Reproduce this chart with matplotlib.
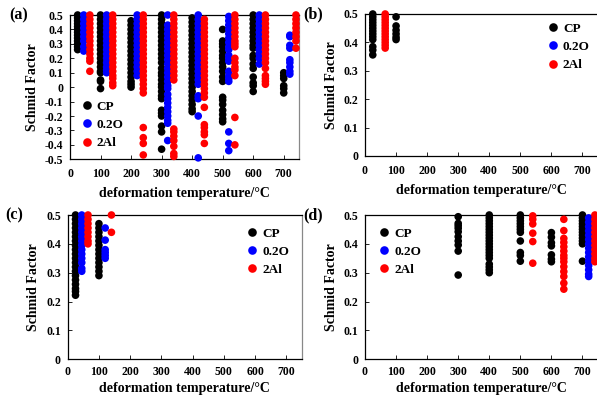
import matplotlib
matplotlib.use("Agg")
import matplotlib.pyplot as plt
from matplotlib.lines import Line2D

plt.rcParams['font.family'] = ['Liberation Serif', 'DejaVu Serif']
plt.rcParams['font.weight'] = 'bold'

labels = ["CP", "0.2O", "2Al"]
colors = ["#000000", "#0000FF", "#FF0000"]

# ---------------- panel (a) ----------------
a_cp_T = [25, 100, 200, 300, 400, 500, 600, 700]
a_cp_V = [
    [0.50, 0.48, 0.46, 0.44, 0.42, 0.40, 0.38, 0.36, 0.34, 0.32, 0.30, 0.28, 0.26],
    [0.50, 0.47, 0.44, 0.41, 0.38, 0.35, 0.32, 0.29, 0.26, 0.23, 0.20, 0.17, 0.14, 0.11, 0.10, 0.05, 0.04, -0.01],
    [0.46, 0.43, 0.40, 0.37, 0.34, 0.31, 0.28, 0.25, 0.22, 0.19, 0.16, 0.13, 0.10, 0.07, 0.04, 0.02, 0.00],
    [0.50, 0.47, 0.44, 0.41, 0.38, 0.35, 0.32, 0.29, 0.26, 0.23, 0.20, 0.17, 0.13, 0.10, 0.08, 0.05, 0.02, 0.00,
     -0.03, -0.06, -0.08, -0.16, -0.18, -0.20, -0.27, -0.31, -0.43],
    [0.48, 0.45, 0.42, 0.39, 0.36, 0.33, 0.30, 0.27, 0.24, 0.21, 0.18, 0.15, 0.12, 0.09, 0.06, 0.03, 0.00,
     -0.03, -0.06, -0.09, -0.12, -0.15, -0.17],
    [0.40, 0.32, 0.30, 0.28, 0.25, 0.22, 0.20, 0.17, 0.14, 0.11, 0.07, 0.04, -0.07, -0.09, -0.12, -0.16, -0.19, -0.22, -0.24],
    [0.50, 0.47, 0.44, 0.41, 0.38, 0.35, 0.32, 0.29, 0.27, 0.22, 0.20, 0.16, 0.13, 0.07, 0.03, 0.01, -0.03],
    [0.10, 0.08, 0.06, 0.01, -0.01, -0.04],
]
a_o_T = [45, 120, 220, 320, 420, 520, 620, 720]
a_o_V = [
    [0.50, 0.47, 0.44, 0.41, 0.38, 0.35, 0.32, 0.28, 0.25],
    [0.50, 0.47, 0.44, 0.41, 0.38, 0.35, 0.32, 0.29, 0.26, 0.23, 0.20, 0.17, 0.14, 0.12, 0.10],
    [0.50, 0.47, 0.44, 0.41, 0.38, 0.35, 0.32, 0.29, 0.26, 0.23, 0.20, 0.17, 0.14, 0.11, 0.08],
    [0.50, 0.43, 0.40, 0.37, 0.34, 0.31, 0.28, 0.25, 0.22, 0.19, 0.16, 0.13, 0.10, 0.07, 0.04, 0.01, -0.01,
     -0.05, -0.08, -0.11, -0.14, -0.17, -0.20, -0.23, -0.25, -0.37],
    [0.50, 0.47, 0.44, 0.41, 0.38, 0.35, 0.32, 0.29, 0.26, 0.23, 0.20, 0.17, 0.14, 0.11, 0.08, 0.05, 0.02,
     -0.06, -0.08, -0.20, -0.49],
    [0.49, 0.46, 0.43, 0.40, 0.37, 0.34, 0.31, 0.28, 0.26, 0.22, 0.20, 0.18, 0.11, 0.08, 0.06, 0.04, -0.31, -0.39, -0.44],
    [0.50, 0.47, 0.44, 0.41, 0.38, 0.35, 0.32, 0.29, 0.26, 0.23, 0.20, 0.16],
    [0.36, 0.35, 0.29, 0.27, 0.19, 0.17, 0.14, 0.11, 0.09],
]
a_al_T = [65, 140, 240, 340, 440, 540, 640, 740]
a_al_V = [
    [0.50, 0.47, 0.44, 0.41, 0.38, 0.35, 0.32, 0.29, 0.26, 0.23, 0.20, 0.18, 0.11],
    [0.50, 0.47, 0.44, 0.41, 0.38, 0.35, 0.32, 0.29, 0.26, 0.23, 0.20, 0.17, 0.14, 0.11, 0.08, 0.06, 0.03, 0.01],
    [0.50, 0.47, 0.44, 0.41, 0.38, 0.35, 0.32, 0.29, 0.26, 0.23, 0.20, 0.17, 0.14, 0.11, 0.08, 0.05, 0.02,
     -0.01, -0.04, -0.28, -0.35, -0.39, -0.47],
    [0.50, 0.47, 0.44, 0.41, 0.38, 0.35, 0.32, 0.29, 0.26, 0.23, 0.20, 0.17, 0.14, 0.11, 0.08, 0.05,
     -0.29, -0.31, -0.34, -0.37, -0.41, -0.46, -0.48],
    [0.47, 0.44, 0.41, 0.38, 0.35, 0.32, 0.29, 0.26, 0.23, 0.20, 0.17, 0.14, 0.11, 0.08, 0.05, 0.02, -0.01,
     -0.04, -0.07, -0.14, -0.26, -0.28, -0.31, -0.33, -0.39],
    [0.50, 0.47, 0.44, 0.41, 0.38, 0.35, 0.32, 0.30, 0.28, 0.20, 0.17, 0.14, 0.12, 0.08, -0.21, -0.40],
    [0.50, 0.47, 0.44, 0.41, 0.38, 0.35, 0.32, 0.29, 0.26, 0.23, 0.20, 0.17, 0.13, 0.08, 0.06, 0.04, 0.02],
    [0.50, 0.47, 0.44, 0.41, 0.38, 0.35, 0.32, 0.27],
]

# ---------------- panel (b) ----------------
b_cp_T = [25, 100]
b_cp_V = [
    [0.50, 0.49, 0.48, 0.47, 0.46, 0.45, 0.44, 0.43, 0.42, 0.41, 0.385, 0.373, 0.356],
    [0.49, 0.458, 0.443, 0.43, 0.418, 0.41],
]
b_o_T = []
b_o_V = []
b_al_T = [65]
b_al_V = [
    [0.50, 0.49, 0.48, 0.47, 0.46, 0.45, 0.44, 0.43, 0.42, 0.41, 0.40, 0.39, 0.38],
]

# ---------------- panel (c) ----------------
c_cp_T = [25, 100]
c_cp_V = [
    [0.50, 0.485, 0.47, 0.455, 0.44, 0.425, 0.41, 0.395, 0.38, 0.365, 0.35, 0.335, 0.32, 0.305, 0.29,
     0.275, 0.26, 0.245, 0.235, 0.222],
    [0.47, 0.455, 0.44, 0.425, 0.41, 0.395, 0.38, 0.365, 0.35, 0.335, 0.32, 0.305, 0.29],
]
c_o_T = [45, 120]
c_o_V = [
    [0.50, 0.485, 0.47, 0.455, 0.44, 0.425, 0.41, 0.395, 0.38, 0.365, 0.35, 0.335, 0.315, 0.305],
    [0.455, 0.413, 0.38, 0.37, 0.36, 0.35],
]
c_al_T = [65, 140]
c_al_V = [
    [0.50, 0.485, 0.47, 0.455, 0.44, 0.425, 0.41, 0.40],
    [0.50, 0.44],
]

# ---------------- panel (d) ----------------
d_cp_T = [300, 400, 500, 600, 700]
d_cp_V = [
    [0.494, 0.471, 0.463, 0.454, 0.442, 0.425, 0.41, 0.396, 0.375, 0.292],
    [0.50, 0.49, 0.48, 0.47, 0.46, 0.45, 0.44, 0.43, 0.42, 0.41, 0.40, 0.39, 0.38, 0.37, 0.36, 0.35,
     0.33, 0.32, 0.31, 0.30],
    [0.50, 0.49, 0.48, 0.47, 0.46, 0.45, 0.44, 0.41, 0.37, 0.36, 0.34],
    [0.439, 0.423, 0.404, 0.393, 0.362, 0.347, 0.338],
    [0.50, 0.49, 0.48, 0.47, 0.46, 0.45, 0.44, 0.43, 0.42, 0.41, 0.40, 0.34],
]
d_o_T = [720]
d_o_V = [
    [0.49, 0.475, 0.46, 0.445, 0.43, 0.415, 0.40, 0.385, 0.37, 0.355, 0.34, 0.325, 0.31, 0.295, 0.287],
]
d_al_T = [540, 640, 740]
d_al_V = [
    [0.497, 0.485, 0.469, 0.437, 0.408, 0.333],
    [0.485, 0.446, 0.419, 0.405, 0.39, 0.375, 0.36, 0.35, 0.338, 0.321, 0.304, 0.287, 0.264, 0.243],
    [0.50, 0.485, 0.47, 0.455, 0.44, 0.425, 0.41, 0.395, 0.38, 0.365, 0.35, 0.338],
]

W, H = 597, 396
fig = plt.figure(figsize=(W / 100, H / 100), dpi=100)


def px_axes(left, top, right, bottom):
    return fig.add_axes([left / W, 1 - bottom / H, (right - left) / W, (bottom - top) / H])


panels = [
    dict(rect=(70, 15, 299, 159.3), tag="(a)", ylim=(-0.5, 0.5), yticks=[-0.5 + 0.1 * i for i in range(11)],
         data=[(a_cp_T, a_cp_V), (a_o_T, a_o_V), (a_al_T, a_al_V)], leg=(0.045, 0.238), xpad=6.5, lpad=5),
    dict(rect=(365, 14, 598, 156), tag="(b)", ylim=(0, 0.5), yticks=[0, 0.1, 0.2, 0.3, 0.4, 0.5],
         data=[(b_cp_T, b_cp_V), (b_o_T, b_o_V), (b_al_T, b_al_V)], leg=(0.7785, 0.768), xpad=6.5, lpad=5),
    dict(rect=(67.7, 215, 302, 359.3), tag="(c)", ylim=(0, 0.5), yticks=[0, 0.1, 0.2, 0.3, 0.4, 0.5],
         data=[(c_cp_T, c_cp_V), (c_o_T, c_o_V), (c_al_T, c_al_V)], leg=(0.76, 0.746), xpad=5, lpad=2.5),
    dict(rect=(365, 215, 598, 359.3), tag="(d)", ylim=(0, 0.5), yticks=[0, 0.1, 0.2, 0.3, 0.4, 0.5],
         data=[(d_cp_T, d_cp_V), (d_o_T, d_o_V), (d_al_T, d_al_V)], leg=(0.0545, 0.746), xpad=5, lpad=2.5),
]


def fmt(v):
    v = round(v, 1)
    if abs(v) < 1e-9:
        return "0"
    return ("%.1f" % v)


for p in panels:
    ax = px_axes(*p["rect"])
    for (Ts, Vs), lab, col in zip(p["data"], labels, colors):
        xs, ys = [], []
        for t, vals in zip(Ts, Vs):
            xs += [t] * len(vals)
            ys += vals
        if xs:
            ax.scatter(xs, ys, s=30, color=col, edgecolors="none", clip_on=False, zorder=3)
    ax.set_xlim(0, 750)
    ax.set_ylim(*p["ylim"])
    ax.set_xticks([0, 100, 200, 300, 400, 500, 600, 700])
    ax.set_yticks(p["yticks"])
    ax.set_yticklabels([fmt(v) for v in p["yticks"]])
    ax.tick_params(direction="in", length=3, width=0.6, labelsize=8.5, pad=5)
    ax.tick_params(axis="x", pad=p["xpad"])
    for s in ax.spines.values():
        s.set_linewidth(0.9)
    ax.spines["right"].set_color("#888888")
    for lbl in ax.get_xticklabels() + ax.get_yticklabels():
        lbl.set_fontweight("bold")
    ax.set_xlabel("deformation temperature/\u00b0C", fontsize=10, fontweight="bold", labelpad=p["lpad"])
    ax.set_ylabel("Schmid Factor", fontsize=10, fontweight="bold", labelpad=4)
    ax.text(-0.265, 1.0, p["tag"], transform=ax.transAxes, fontsize=11.5, fontweight="bold",
            ha="left", va="center")
    handles = [Line2D([], [], linestyle="none", marker="o", markersize=6.2, color=c,
                      markeredgewidth=0) for c in colors]
    ax.legend(handles, labels, loc="center left", bbox_to_anchor=p["leg"], frameon=False,
              handletextpad=0.25, labelspacing=0.45, handlelength=1.0, borderpad=0.0,
              borderaxespad=0.0, prop={"weight": "bold", "size": 9.5})

fig.savefig("out.png", dpi=100)
